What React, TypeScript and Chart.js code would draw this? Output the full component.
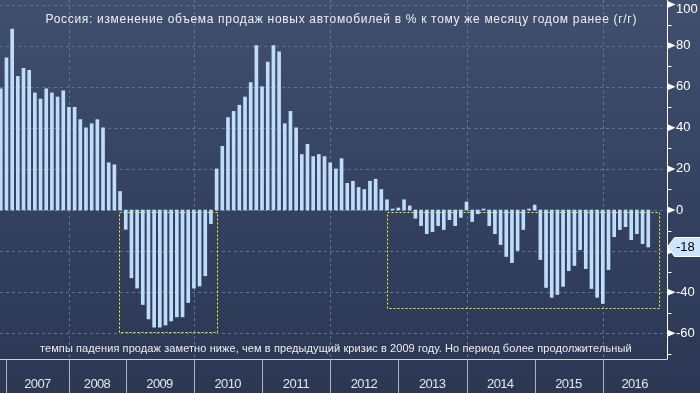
import React, { useEffect, useRef } from 'react';
import { Chart, registerables } from 'chart.js';

Chart.register(...registerables);

// Monthly y/y change of new car sales in Russia, %
const salesChange: number[] = [
  59, 74, 88, 65, 69, 68, 57, 54, 59, 57, 55, 58,
  50, 50, 44, 40, 42, 44, 40, 23, 22, 9,
  -9.4, -33, -38, -46, -53, -57, -57, -56, -54, -52, -52, -45, -38, -37, -32, -6.6,
  20, 31, 45, 48, 51, 55, 62, 80, 60, 72, 80, 77,
  42, 48, 40, 27, 32, 26, 27, 26, 23, 20, 25, 13,
  14, 11, 10, 14, 15, 10, 5, 0.5, 1, 5, 2, -4,
  -7.6, -11.5, -10.5, -7.6, -9.5, -4.7, -7.6, -3.6, 3.9, -5.6, -1.8, 0.5,
  -7.6, -11.5, -16.8, -22.6, -25.6, -19.7, -9.5, 0.5, 2.4, -24.1, -37.7, -42.5,
  -41.1, -37.2, -29.5, -27, -19.3, -28.5, -38.2, -42.5, -45.5, -29, -13, -9.5,
  -8.1, -14.4, -11.5, -16.4, -18,
];

const yearLabels: string[] = ['2007', '2008', '2009', '2010', '2011', '2012', '2013', '2014', '2015', '2016'];
// index of the bar at which each year section starts
const yearStartIndex: number[] = [1, 12, 22, 34, 46, 58, 70, 82, 94, 106];

const yMajorTicks: number[] = [-60, -40, -20, 0, 20, 40, 60, 80, 100];
const yMinorTicks: number[] = [-70, -50, -30, -10, 10, 30, 50, 70, 90];

const titleText = 'Россия: изменение объема продаж новых автомобилей в % к тому же месяцу годом ранее (г/г)';
const noteText = 'темпы падения продаж заметно ниже, чем в предыдущий кризис в 2009 году. Но период более продолжительный';

// highlighted periods (bar index range, value range)
const crisis2009 = { from: 20.86, to: 38.0, top: -1.1, bottom: -59.5 };
const crisis2015 = { from: 68.0, to: 115.9, top: -1.1, bottom: -47.9 };

const FONT = '"Liberation Sans", Arial, sans-serif';

function drawFitted(ctx: CanvasRenderingContext2D, text: string, x0: number, x1: number, y: number) {
  const target = x1 - x0;
  const anyCtx = ctx as any;
  if ('letterSpacing' in anyCtx) {
    anyCtx.letterSpacing = '0px';
    const w0 = ctx.measureText(text).width;
    const sp = (target - w0) / Math.max(1, text.length - 1);
    anyCtx.letterSpacing = sp.toFixed(2) + 'px';
    ctx.textAlign = 'left';
    ctx.fillText(text, x0, y);
    anyCtx.letterSpacing = '0px';
  } else {
    const w0 = ctx.measureText(text).width;
    ctx.save();
    ctx.translate(x0, y);
    ctx.scale(target / w0, 1);
    ctx.textAlign = 'left';
    ctx.fillText(text, 0, 0);
    ctx.restore();
  }
}

const bbgPlugin = {
  id: 'bbgStyle',
  beforeDraw(chart: any) {
    const { ctx, width, height } = chart;
    const g = ctx.createLinearGradient(0, 0, 0, height);
    g.addColorStop(0, '#414f6f');
    g.addColorStop(0.55, '#334060');
    g.addColorStop(1, '#2b3753');
    ctx.save();
    ctx.fillStyle = g;
    ctx.fillRect(0, 0, width, height);
    ctx.restore();
  },
  beforeDatasetsDraw(chart: any) {
    const { ctx, chartArea: a, scales } = chart;
    const x = scales.x;
    const y = scales.y;
    ctx.save();
    ctx.lineWidth = 1;
    ctx.strokeStyle = '#557790';
    ctx.setLineDash([3, 3]);
    for (const v of yMajorTicks) {
      const py = Math.round(y.getPixelForValue(v)) + 0.5;
      ctx.beginPath();
      ctx.moveTo(a.left, py);
      ctx.lineTo(a.right, py);
      ctx.stroke();
    }
    for (let k = 1; k < yearStartIndex.length; k += 2) {
      const px = Math.round(x.getPixelForValue(yearStartIndex[k])) + 0.5;
      ctx.beginPath();
      ctx.moveTo(px, a.top);
      ctx.lineTo(px, a.bottom);
      ctx.stroke();
    }
    ctx.strokeStyle = '#ffff1a';
    ctx.setLineDash([2, 2]);
    for (const b of [crisis2009, crisis2015]) {
      const l = Math.round(x.getPixelForValue(b.from)) + 0.5;
      const r = Math.round(x.getPixelForValue(b.to)) + 0.5;
      const t = Math.round(y.getPixelForValue(b.top)) + 0.5;
      const bt = Math.round(y.getPixelForValue(b.bottom)) + 0.5;
      ctx.strokeRect(l, t, r - l, bt - t);
    }
    ctx.restore();
  },
  afterDatasetsDraw(chart: any) {
    const { ctx, chartArea: a, scales, width, height } = chart;
    const x = scales.x;
    const y = scales.y;
    ctx.save();
    ctx.setLineDash([]);
    ctx.lineWidth = 1;

    // bottom axis
    const by = Math.round(a.bottom) + 0.5;
    ctx.strokeStyle = '#cdd1d8';
    ctx.beginPath();
    ctx.moveTo(0, by);
    ctx.lineTo(a.right, by);
    ctx.stroke();
    const seps = yearStartIndex.map((i) => x.getPixelForValue(i));
    for (const s of seps) {
      const px = Math.round(s) + 0.5;
      ctx.strokeStyle = '#aeb3bd';
      ctx.beginPath();
      ctx.moveTo(px, by);
      ctx.lineTo(px, height);
      ctx.stroke();
    }
    ctx.fillStyle = '#e4e6ea';
    ctx.font = `13px ${FONT}`;
    ctx.textBaseline = 'middle';
    yearLabels.forEach((lab, k) => {
      const l = seps[k];
      const r = k + 1 < seps.length ? seps[k + 1] : a.right;
      const c = (l + r) / 2;
      drawFitted(ctx, lab, c - 13.5, c + 13.5, 384);
    });

    // right axis
    const ax = Math.round(a.right) + 0.5;
    ctx.strokeStyle = '#ffffff';
    ctx.beginPath();
    ctx.moveTo(ax, 0);
    ctx.lineTo(ax, by);
    ctx.stroke();
    for (const v of yMinorTicks) {
      const py = Math.round(y.getPixelForValue(v)) + 0.5;
      ctx.beginPath();
      ctx.moveTo(ax, py);
      ctx.lineTo(ax + 4, py);
      ctx.stroke();
    }
    const last = salesChange[salesChange.length - 1];
    const vy = y.getPixelForValue(last);
    ctx.fillStyle = '#ffffff';
    ctx.font = `13px ${FONT}`;
    ctx.textAlign = 'left';
    ctx.textBaseline = 'middle';
    for (const v of yMajorTicks) {
      const py = y.getPixelForValue(v);
      ctx.beginPath();
      ctx.moveTo(ax, py - 3.5);
      ctx.lineTo(ax + 8, py);
      ctx.lineTo(ax, py + 3.5);
      ctx.closePath();
      ctx.fill();
      if (Math.abs(py - vy) < 12) continue;
      ctx.fillText(String(v), 676, Math.max(py, 9.5));
    }

    // last value tag
    ctx.beginPath();
    ctx.moveTo(ax, vy);
    ctx.lineTo(ax + 7, vy - 9.5);
    ctx.lineTo(width + 2, vy - 9.5);
    ctx.lineTo(width + 2, vy + 9.5);
    ctx.lineTo(ax + 7, vy + 9.5);
    ctx.closePath();
    ctx.fillStyle = '#cde5fc';
    ctx.fill();
    ctx.strokeStyle = '#ffffff';
    ctx.stroke();
    ctx.fillStyle = '#000000';
    ctx.fillText(String(Math.round(last)), 676, vy + 0.5);

    // title and note
    ctx.fillStyle = '#eceef2';
    ctx.font = `12px ${FONT}`;
    drawFitted(ctx, titleText, 45.5, 636, 19.5);
    ctx.font = `11px ${FONT}`;
    drawFitted(ctx, noteText, 40, 632, 348.5);
    ctx.restore();
  },
};

export default function App() {
  const canvasRef = useRef<HTMLCanvasElement | null>(null);

  useEffect(() => {
    const canvas = canvasRef.current;
    if (!canvas) return;
    const chart = new Chart(canvas, {
      type: 'bar',
      data: {
        datasets: [
          {
            data: salesChange.map((v, i) => ({ x: i, y: v })),
            backgroundColor: '#bfdcfb',
            borderWidth: 0,
            barThickness: 3,
          },
        ],
      },
      options: {
        animation: false,
        responsive: true,
        maintainAspectRatio: false,
        layout: { padding: 0 },
        plugins: { legend: { display: false }, tooltip: { enabled: false }, title: { display: false } },
        scales: {
          x: {
            type: 'linear',
            offset: false,
            min: -0.14,
            max: 117.3,
            grid: { display: false },
            border: { display: false },
            ticks: { display: false },
            afterFit: (s: any) => {
              s.height = 34;
            },
          },
          y: {
            position: 'right',
            min: -72.5,
            max: 102.2,
            grid: { display: false },
            border: { display: false },
            ticks: { display: false },
            afterFit: (s: any) => {
              s.width = 33;
            },
          },
        },
      } as any,
      plugins: [bbgPlugin as any],
    });
    return () => chart.destroy();
  }, []);

  return (
    <div style={{ position: 'fixed', left: 0, top: 0, width: 700, height: 393, background: '#2b3753' }}>
      <canvas ref={canvasRef} />
    </div>
  );
}
